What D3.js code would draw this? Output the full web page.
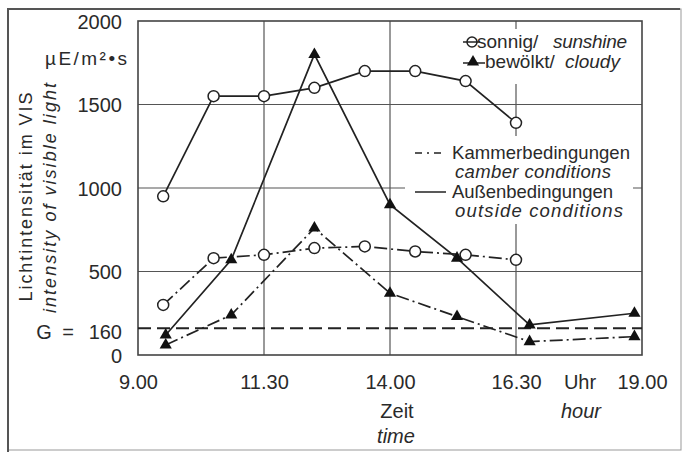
<!DOCTYPE html>
<html>
<head>
<meta charset="utf-8">
<script src="https://cdn.jsdelivr.net/npm/d3@7"></script>
<style>
  body { margin: 0; background: #fff; }
  text { font-family: "Liberation Sans", Arial, sans-serif; fill: #2a2a2a; }
</style>
</head>
<body>
<div id="chart"></div>
<script>
////////////////////////////////////////////////////////////////////////
// Data (time in decimal hours, values in µE/m²·s)

let sunTimes = [9.5, 10.5, 11.5, 12.5, 13.5, 14.5, 15.5, 16.5];
let sunOutside = [950, 1550, 1550, 1600, 1700, 1700, 1640, 1390];
let sunChamber = [300, 580, 600, 640, 650, 620, 600, 570];

let cloudTimes = [9.55, 10.85, 12.5, 14.0, 15.33, 16.77, 18.85];
let cloudOutside = [120, 570, 1800, 900, 580, 180, 250];
let cloudChamber = [60, 240, 760, 370, 230, 80, 110];

let gValue = 160;

let xTicks = [9, 11.5, 14, 16.5, 19];
let xTickLabels = ["9.00", "11.30", "14.00", "16.30", "19.00"];
let yTicks = [0, 500, 1000, 1500, 2000];
let gridX = [11.5, 14, 16.5];
let gridY = [500, 1000, 1500];

////////////////////////////////////////////////////////////////////////
// Preliminaries

let width = 683, height = 452;
let ink = "#222";

let xScale = d3.scaleLinear().domain([9, 19]).range([138, 642]);
let yScale = d3.scaleLinear().domain([0, 2000]).range([355, 21]);

let svg = d3.select("#chart")
  .append("svg")
  .attr("width", width)
  .attr("height", height);

// outer frame
svg.append("rect")
  .attr("x", 8).attr("y", 9)
  .attr("width", 673).attr("height", 441)
  .attr("fill", "none")
  .attr("stroke", "#999")
  .attr("stroke-width", 1);
svg.append("path")
  .attr("d", "M8,452 L8,9 L680,9")
  .attr("fill", "none")
  .attr("stroke", "#555")
  .attr("stroke-width", 2);

////////////////////////////////////////////////////////////////////////
// Grid and plot box

let grid = svg.append("g")
  .attr("stroke", "#555")
  .attr("stroke-width", 1.2);

grid.selectAll(".gx")
  .data(gridX)
  .enter()
  .append("line")
  .attr("x1", d => xScale(d)).attr("x2", d => xScale(d))
  .attr("y1", yScale(2000)).attr("y2", yScale(0));

grid.selectAll(".gy")
  .data(gridY)
  .enter()
  .append("line")
  .attr("x1", xScale(9)).attr("x2", xScale(19))
  .attr("y1", d => yScale(d)).attr("y2", d => yScale(d));

// the legends sit on white patches that hide the grid
svg.append("rect")
  .attr("x", 460).attr("y", 29).attr("width", 176).attr("height", 55)
  .attr("fill", "#fff");
svg.append("rect")
  .attr("x", 405).attr("y", 136).attr("width", 228).attr("height", 88)
  .attr("fill", "#fff");

svg.append("rect")
  .attr("x", xScale(9)).attr("y", yScale(2000))
  .attr("width", xScale(19) - xScale(9))
  .attr("height", yScale(0) - yScale(2000))
  .attr("fill", "none")
  .attr("stroke", "#444")
  .attr("stroke-width", 1.6);

// threshold G
svg.append("line")
  .attr("x1", xScale(9)).attr("x2", xScale(19))
  .attr("y1", yScale(gValue)).attr("y2", yScale(gValue))
  .attr("stroke", ink)
  .attr("stroke-width", 2)
  .attr("stroke-dasharray", "13,6");

////////////////////////////////////////////////////////////////////////
// Axes (labels only)

let xAxis = d3.axisBottom(xScale)
  .tickValues(xTicks)
  .tickFormat((d, i) => xTickLabels[i])
  .tickSize(0)
  .tickPadding(0);

svg.append("g")
  .attr("transform", "translate(0, 383)")
  .call(xAxis)
  .call(g => g.select(".domain").remove())
  .selectAll("text")
  .attr("dy", "0.32em")
  .style("font-size", "20px")
  .style("font-family", "Liberation Sans, Arial, sans-serif")
  .attr("fill", "#2a2a2a");

let yAxis = d3.axisLeft(yScale)
  .tickValues(yTicks)
  .tickFormat(d3.format("d"))
  .tickSize(0)
  .tickPadding(0);

svg.append("g")
  .attr("transform", "translate(122, 0)")
  .call(yAxis)
  .call(g => g.select(".domain").remove())
  .selectAll("text")
  .attr("dy", "0.36em")
  .style("font-size", "20px")
  .style("font-family", "Liberation Sans, Arial, sans-serif")
  .attr("fill", "#2a2a2a");

// G = 160
let gy = yScale(gValue) + 4;
svg.append("text").attr("x", 44).attr("y", gy).attr("dy", "0.36em")
  .attr("text-anchor", "middle").style("font-size", "20px").text("G");
svg.append("text").attr("x", 68).attr("y", gy).attr("dy", "0.36em")
  .attr("text-anchor", "middle").style("font-size", "20px").text("=");
svg.append("text").attr("x", 122).attr("y", gy).attr("dy", "0.36em")
  .attr("text-anchor", "end").style("font-size", "20px").text("160");

// unit
svg.append("text")
  .attr("x", 45).attr("y", 65)
  .attr("textLength", 82)
  .style("font-size", "19px")
  .text("µE/m²•s");

// axis titles
svg.append("text")
  .attr("transform", "translate(32, 197) rotate(-90)")
  .attr("text-anchor", "middle")
  .attr("textLength", 209)
  .style("font-size", "18px")
  .text("Lichtintensität im VIS");

svg.append("text")
  .attr("transform", "translate(56, 198) rotate(-90)")
  .attr("text-anchor", "middle")
  .attr("textLength", 230)
  .style("font-size", "18px")
  .style("font-style", "italic")
  .text("intensity of visible light");

svg.append("text").attr("x", 397).attr("y", 418)
  .attr("text-anchor", "middle").style("font-size", "20px").text("Zeit");
svg.append("text").attr("x", 396).attr("y", 443)
  .attr("text-anchor", "middle").style("font-size", "20px")
  .style("font-style", "italic").text("time");
svg.append("text").attr("x", 580).attr("y", 383).attr("dy", "0.32em")
  .attr("text-anchor", "middle").style("font-size", "20px").text("Uhr");
svg.append("text").attr("x", 581).attr("y", 418)
  .attr("text-anchor", "middle").style("font-size", "20px")
  .style("font-style", "italic").text("hour");

////////////////////////////////////////////////////////////////////////
// Series

let line = d3.line()
  .x(d => xScale(d.t))
  .y(d => yScale(d.v));

function zipSeries(times, values) {
  return times.map((t, i) => ({ t: t, v: values[i] }));
}

let dashDot = "13,4,2,4";

let series = [
  { data: zipSeries(sunTimes, sunChamber), dash: dashDot, mark: "circle" },
  { data: zipSeries(cloudTimes, cloudChamber), dash: dashDot, mark: "triangle" },
  { data: zipSeries(sunTimes, sunOutside), dash: null, mark: "circle" },
  { data: zipSeries(cloudTimes, cloudOutside), dash: null, mark: "triangle" }
];

let triangle = d3.symbol().type(d3.symbolTriangle).size(64);

series.forEach(s => {
  svg.append("path")
    .datum(s.data)
    .attr("d", line)
    .attr("fill", "none")
    .attr("stroke", ink)
    .attr("stroke-width", 1.7)
    .attr("stroke-dasharray", s.dash);

  if (s.mark === "circle") {
    svg.append("g")
      .selectAll("circle")
      .data(s.data)
      .enter()
      .append("circle")
      .attr("cx", d => xScale(d.t))
      .attr("cy", d => yScale(d.v))
      .attr("r", 5.5)
      .attr("fill", "#fff")
      .attr("stroke", ink)
      .attr("stroke-width", 1.5);
  } else {
    svg.append("g")
      .selectAll("path")
      .data(s.data)
      .enter()
      .append("path")
      .attr("transform", d => "translate(" + xScale(d.t) + "," + yScale(d.v) + ")")
      .attr("d", triangle)
      .attr("fill", "#111");
  }
});

////////////////////////////////////////////////////////////////////////
// Legends

// marker legend
svg.append("line").attr("x1", 463).attr("x2", 480).attr("y1", 42).attr("y2", 42)
  .attr("stroke", ink).attr("stroke-width", 1.5);
svg.append("circle").attr("cx", 472).attr("cy", 42).attr("r", 5)
  .attr("fill", "none").attr("stroke", ink).attr("stroke-width", 1.5);
svg.append("text").attr("x", 477).attr("y", 48).style("font-size", "19px")
  .text("sonnig/");
svg.append("text").attr("x", 553).attr("y", 48).style("font-size", "19px")
  .style("font-style", "italic").attr("textLength", 74).text("sunshine");

svg.append("line").attr("x1", 463).attr("x2", 485).attr("y1", 63).attr("y2", 63)
  .attr("stroke", ink).attr("stroke-width", 1.5);
svg.append("path").attr("transform", "translate(473,62)").attr("d", triangle)
  .attr("fill", "#111");
svg.append("text").attr("x", 485).attr("y", 68).style("font-size", "19px")
  .text("bewölkt/");
svg.append("text").attr("x", 565).attr("y", 68).style("font-size", "19px")
  .style("font-style", "italic").text("cloudy");

// line-style legend
svg.append("line").attr("x1", 415).attr("x2", 446).attr("y1", 153).attr("y2", 153)
  .attr("stroke", ink).attr("stroke-width", 1.5).attr("stroke-dasharray", "7,5,2,5");
svg.append("text").attr("x", 452).attr("y", 159).style("font-size", "18.5px")
  .attr("textLength", 178).text("Kammerbedingungen");
svg.append("text").attr("x", 455).attr("y", 178).style("font-size", "18.5px")
  .style("font-style", "italic").attr("textLength", 156).text("camber conditions");

svg.append("line").attr("x1", 415).attr("x2", 446).attr("y1", 192).attr("y2", 192)
  .attr("stroke", ink).attr("stroke-width", 1.5);
svg.append("text").attr("x", 452).attr("y", 198).style("font-size", "18.5px")
  .attr("textLength", 161).text("Außenbedingungen");
svg.append("text").attr("x", 455).attr("y", 217).style("font-size", "18.5px")
  .style("font-style", "italic").attr("textLength", 168).text("outside conditions");
</script>
</body>
</html>
